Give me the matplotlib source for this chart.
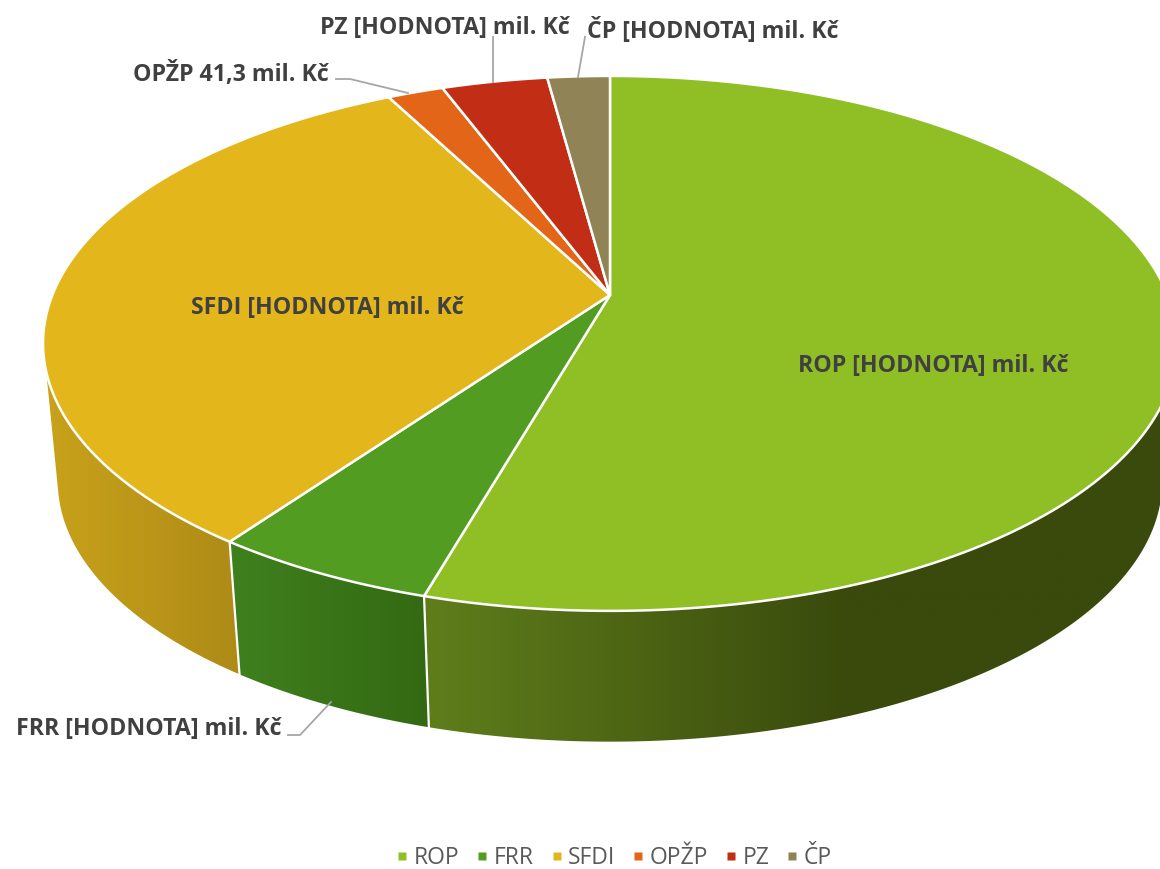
import numpy as np
import matplotlib
matplotlib.use("Agg")
import matplotlib.pyplot as plt
from matplotlib.colors import LinearSegmentedColormap
from matplotlib.lines import Line2D
from matplotlib.patches import PathPatch, Polygon
from matplotlib.path import Path

plt.rcParams["font.family"] = ["Open Sans", "DejaVu Sans"]

categories = ["ROP", "FRR", "SFDI", "OPŽP", "PZ", "ČP"]
values = [1181, 118, 705, 41.3, 78, 46]
labels = [
    "ROP [HODNOTA] mil. Kč",
    "FRR [HODNOTA] mil. Kč",
    "SFDI [HODNOTA] mil. Kč",
    "OPŽP 41,3 mil. Kč",
    "PZ [HODNOTA] mil. Kč",
    "ČP [HODNOTA] mil. Kč",
]
colors = ["#8FBF25", "#519C21", "#E3B71B", "#E36618", "#C12E15", "#908355"]

# side wall shading, left colour -> right colour, only the front slices show
side_shades = {
    0: ("#5F7E1B", "#394A0C", 424, 850),
    1: ("#3F801E", "#336912", 232, 429),
    2: ("#C9A21A", "#AE8B17", 45, 238),
}

# fake 3D: perspective of the unit disc onto the picture, in pixels
APEX = (610, 295)
SX, A, K = 557.6, 258.7, 0.181
DROP, SHRINK = 139, 0.974
# where the wall silhouette leaves the top and the bottom disc (deg)
TOP_TANGENT = (106.4, 253.6)
BOTTOM_TANGENT = (102.5, 257.5)


def project(angle, r=1.0, bottom=False):
    """Clockwise angle from 12 o'clock (deg) -> pixel position."""
    t = np.radians(angle)
    x, y = r * np.sin(t), r * np.cos(t)
    dx = SX * x / (1 + K * y)
    dy = A * y / (1 + K * y)
    if bottom:
        return APEX[0] + SHRINK * dx, APEX[1] + DROP - SHRINK * dy
    return APEX[0] + dx, APEX[1] - dy


fig = plt.figure(figsize=(11.6, 8.69), dpi=100)
ax = fig.add_axes([0, 0, 1, 1])

edges = np.concatenate([[0], np.cumsum(values)]) / np.sum(values) * 360

# side walls first, the top face covers whatever is left behind it
for i, (c0, c1, x0, x1) in side_shades.items():
    top_ts = np.linspace(max(edges[i], TOP_TANGENT[0]), min(edges[i + 1], TOP_TANGENT[1]), 200)
    bot_ts = np.linspace(max(edges[i], BOTTOM_TANGENT[0]), min(edges[i + 1], BOTTOM_TANGENT[1]), 200)
    tx, ty = project(top_ts)
    bx, by = project(bot_ts[::-1], bottom=True)
    verts = np.column_stack([np.r_[tx, bx], np.r_[ty, by]])
    poly = Polygon(verts, closed=True, facecolor="none", edgecolor="none")
    ax.add_patch(poly)
    cmap = LinearSegmentedColormap.from_list(f"side{i}", [c0, c1])
    xmin, xmax = verts[:, 0].min(), verts[:, 0].max()
    grad = np.clip((np.linspace(xmin, xmax, 512) - x0) / (x1 - x0), 0, 1)
    im = ax.imshow(grad[None, :], cmap=cmap, vmin=0, vmax=1, aspect="auto",
                   extent=[xmin, xmax, verts[:, 1].max(), verts[:, 1].min()],
                   interpolation="bilinear", zorder=1)
    im.set_clip_path(poly)

# white seams on the wall between the slices
for e in edges[1:3]:
    x_top, y_top = project(e)
    x_bot, y_bot = project(e, bottom=True)
    ax.plot([x_top, x_bot], [y_top, y_bot], color="white", lw=1.6, zorder=2)

# top face
for i in range(len(values)):
    ts = np.linspace(edges[i], edges[i + 1], 300)
    ox, oy = project(ts)
    verts = [APEX] + list(zip(ox, oy)) + [APEX]
    codes = [Path.MOVETO] + [Path.LINETO] * (len(verts) - 2) + [Path.CLOSEPOLY]
    ax.add_patch(PathPatch(Path(verts, codes), facecolor=colors[i],
                           edgecolor="white", lw=1.8, joinstyle="round", zorder=3))

# leader lines
leaders = [
    ([288, 300, 331], [735, 735, 702]),
    ([336, 350, 408], [79, 79, 93]),
    ([493, 493], [37, 82]),
    ([585, 578], [37, 77]),
]
for lx, ly in leaders:
    ax.plot(lx, ly, color="#A6A6A6", lw=1.3, zorder=4, solid_joinstyle="round")

# data labels
label_pos = [(933, 366), (149, 729), (327, 308), (231, 74), (445, 28), (713, 31)]
for text, (lx, ly) in zip(labels, label_pos):
    ax.text(lx, ly, text, ha="center", va="center", fontsize=16.65,
            fontweight="bold", color="#404040", zorder=5)

handles = [Line2D([], [], linestyle="none", marker="s", markersize=6,
                  markerfacecolor=c, markeredgecolor="none") for c in colors]
ax.legend(handles, categories, loc="center", bbox_to_anchor=(612 / 1160, 1 - 858 / 869),
          ncol=6, frameon=False, fontsize=16.5, labelcolor="#595959",
          handletextpad=0.05, columnspacing=0.55, handlelength=0.9, borderpad=0)

ax.set_xlim(0, 1160)
ax.set_ylim(869, 0)
ax.axis("off")
fig.savefig("out.png", dpi=100, facecolor="white")
